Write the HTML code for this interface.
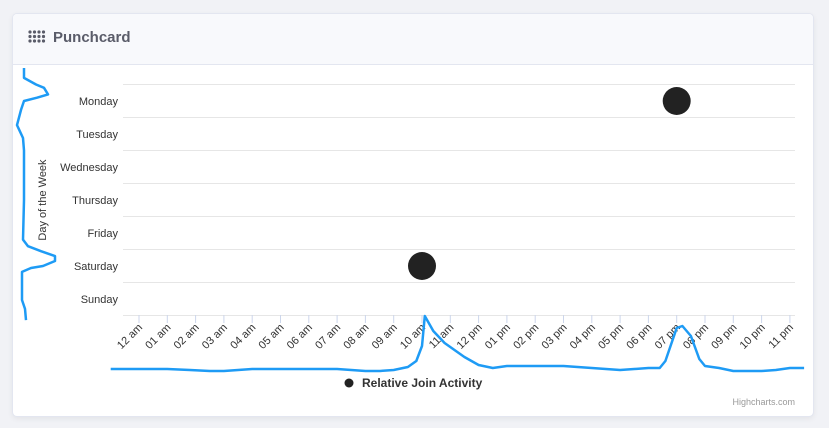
<!DOCTYPE html>
<html><head><meta charset="utf-8"><style>
body{margin:0;width:829px;height:428px;background:#f1f2f6;font-family:"Liberation Sans",sans-serif;overflow:hidden}
.card{position:absolute;left:12px;top:13px;width:800px;height:402px;background:#fff;border:1px solid #e3e6f0;border-radius:5px;overflow:hidden;box-shadow:0 2px 6px rgba(0,0,0,.06)}
.hdr{height:50px;background:#f8f9fc;border-bottom:1px solid #e3e6f0;position:relative}
.hdr span{position:absolute;left:40px;top:15px;font-size:15px;font-weight:bold;color:#5a5c69}
svg{position:absolute;left:0;top:0}
</style></head><body>
<div class="card">
<div class="hdr">
<svg width="24" height="24" style="left:15px;top:15px">
<g fill="#5a5c69"><circle cx="2" cy="3" r="1.6"/><circle cx="6.5" cy="3" r="1.6"/><circle cx="11" cy="3" r="1.6"/><circle cx="15.5" cy="3" r="1.6"/><circle cx="2" cy="7.5" r="1.6"/><circle cx="6.5" cy="7.5" r="1.6"/><circle cx="11" cy="7.5" r="1.6"/><circle cx="15.5" cy="7.5" r="1.6"/><circle cx="2" cy="12" r="1.6"/><circle cx="6.5" cy="12" r="1.6"/><circle cx="11" cy="12" r="1.6"/><circle cx="15.5" cy="12" r="1.6"/></g></svg>
<span>Punchcard</span>
</div>
</div>
<svg id="c" width="829" height="428"></svg>
<script>
const days=["Monday","Tuesday","Wednesday","Thursday","Friday","Saturday","Sunday"];
const hours=["12 am","01 am","02 am","03 am","04 am","05 am","06 am","07 am","08 am","09 am","10 am","11 am","12 pm","01 pm","02 pm","03 pm","04 pm","05 pm","06 pm","07 pm","08 pm","09 pm","10 pm","11 pm"];
const bubbleDay=[0,5];
const bubbleHour=[19,10];
const bubbleSize=[1,1];
const hourDensityX=[-1,0,1,1.8,2.5,3,4,5,6,7,7.5,8,8.5,9,9.5,9.8,10,10.1,10.4,10.8,11.5,12,12.5,13,14,15,16,17,17.5,18,18.4,18.6,19,19.2,19.5,19.8,20,20.5,21,22,22.5,23,23.5];
const hourDensityV=[2,2,2,1,0,0,2,2,2,2,1,0,0,1,4,10,25,55,40,28,14,6,3,5,5,5,3,1,2,3,3,10,43,45,35,12,5,3,0,0,1,3,3];
const dayDensityY=[-1,-0.7,-0.5,-0.4,-0.2,-0.1,0,0.27,0.73,1.12,1.5,3,4.2,4.4,4.55,4.7,4.85,5.0,5.06,5.18,6.03,6.3,6.64];
const dayDensityV=[7,7,19,27,31,20,7,4,0,6,7,7,6,11,24,38,38,26,14,5,5,8,9];
const S="http://www.w3.org/2000/svg",svg=document.getElementById('c');
function el(t,a,p){const e=document.createElementNS(S,t);for(const k in a)e.setAttribute(k,a[k]);(p||svg).appendChild(e);return e;}
const xH=h=>139+28.3*h, yD=d=>101+33*d;
for(let i=0;i<=days.length;i++){const g=el('line',{x1:123,x2:795,y1:yD(i-0.5),y2:yD(i-0.5),stroke:'#e6e6e6'});

}
days.forEach((d,i)=>{const t=el('text',{x:118,y:yD(i)+4,'text-anchor':'end','font-size':11,fill:'#333'});t.textContent=d;

});
hours.forEach((h,i)=>{const x=xH(i);
const tk=el('line',{x1:x,x2:x,y1:315,y2:323,stroke:'#ccd6eb'});


const t=el('text',{x:x+4,y:328,'text-anchor':'end','font-size':11,fill:'#333',transform:`rotate(-45 ${x+4} 328)`});t.textContent=h;

});
const yt=el('text',{x:46,y:200,'text-anchor':'middle','font-size':11,fill:'#333',transform:'rotate(-90 46 200)'});yt.textContent='Day of the Week';


let p=hourDensityX.map((h,i)=>(i?'L':'M')+xH(h).toFixed(1)+' '+(371-hourDensityV[i])).join(' ');
const bc=el('path',{d:p,fill:'none',stroke:'#1e9bf5','stroke-width':2.5,'stroke-linejoin':'round'});


p=dayDensityY.map((d,i)=>(i?'L':'M')+(17+dayDensityV[i])+' '+yD(d).toFixed(1)).join(' ');
const lc=el('path',{d:p,fill:'none',stroke:'#1e9bf5','stroke-width':2.5,'stroke-linejoin':'round'});


bubbleDay.forEach((d,i)=>{const c=el('circle',{cx:xH(bubbleHour[i]),cy:yD(d),r:14*bubbleSize[i],fill:'#222'});

});
const ld=el('circle',{cx:349,cy:383,r:4.5,fill:'#222'});


const lt=el('text',{x:362,y:387,'font-size':12,'font-weight':'bold',fill:'#333'});lt.textContent='Relative Join Activity';


const cr=el('text',{x:795,y:405,'text-anchor':'end','font-size':9,fill:'#999'});cr.textContent='Highcharts.com';


</script>
</body></html>
